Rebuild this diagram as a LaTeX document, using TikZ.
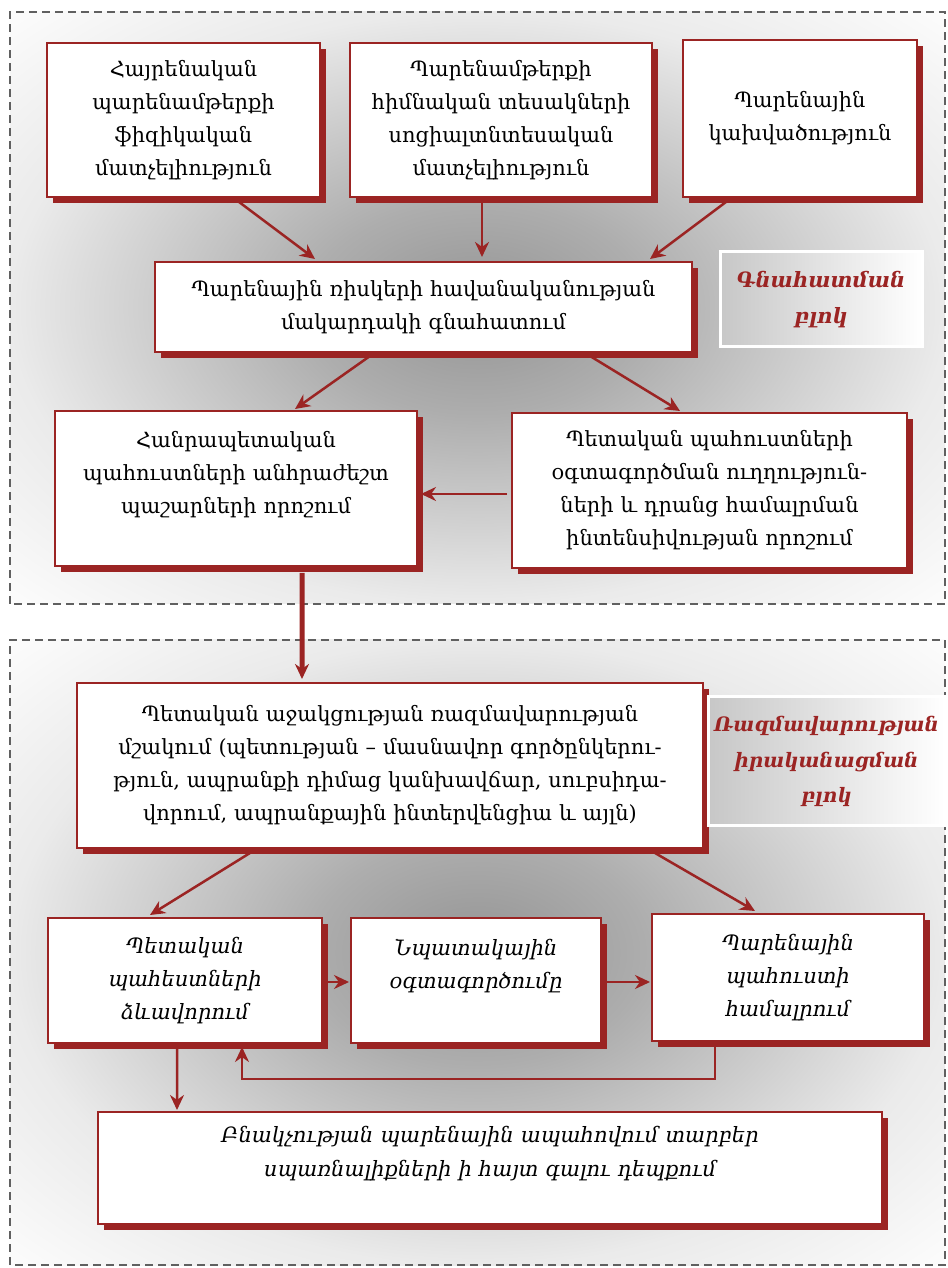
\documentclass[tikz,border=0pt]{standalone}
\usepackage{fontspec}
\setmainfont{DejaVu Serif}
\usetikzlibrary{arrows.meta,shadows}
\definecolor{boxred}{HTML}{9B2423}
\definecolor{dashgray}{HTML}{606060}
\pgfdeclareradialshading{blockglow}{\pgfpoint{0bp}{0bp}}{color(0bp)=(black!42); color(9bp)=(black!32); color(25bp)=(black!8); color(37bp)=(white); color(50bp)=(white)}

\begin{document}
\begin{tikzpicture}[
    stagebox/.style={draw=boxred, line width=0.04cm, fill=white, align=center,
      inner xsep=0.2cm, inner ysep=0pt,
      drop shadow={shadow xshift=0.12cm, shadow yshift=-0.12cm, fill=boxred, opacity=1},
      font=\fontsize{11.9}{18.8}\selectfont},
    stageit/.style={stagebox, font=\fontsize{12}{19}\selectfont\itshape},
    blocklabel/.style={draw=white, line width=0.06cm, left color=black!22, right color=white,
      align=center, inner sep=0pt, text=boxred,
      font=\fontsize{12}{20.5}\selectfont\itshape\bfseries},
    flow/.style={draw=boxred, line width=0.05cm, -{Stealth[length=0.3cm,width=0.28cm]}},
    region/.style={draw=dashgray, line width=0.04cm, dash pattern=on 0.16cm off 0.1cm}
  ]
  \useasboundingbox (0,0) rectangle (18.96,25.36);

  % Assessment block background
  \shade [shading=blockglow] (0.2,13.28) rectangle (18.9,25.12);
  \draw [region] (0.2,13.28) rectangle (18.9,25.12);

  % Strategy block background
  \shade [shading=blockglow] (0.2,0.06) rectangle (18.9,12.56);
  \draw [region] (0.2,0.06) rectangle (18.9,12.56);

  % Top row of factors
  \node [stagebox, text width=5.06cm, minimum height=3.08cm] (physical) at (3.67,22.96)
    {Հայրենական\\ պարենամթերքի\\ ֆիզիկական\\ մատչելիություն};
  \node [stagebox, text width=5.64cm, minimum height=3.08cm] (social) at (10.02,22.96)
    {Պարենամթերքի\\ հիմնական տեսակների\\ սոցիալտնտեսական\\ մատչելիություն};
  \node [stagebox, text width=4.28cm, minimum height=3.14cm] (dependence) at (16.0,22.99)
    {Պարենային\\ կախվածություն};

  % Risk level assessment
  \node [stagebox, text width=10.34cm, minimum height=1.8cm] (risk) at (8.47,19.22)
    {Պարենային ռիսկերի հավանականության\\ մակարդակի գնահատում};
  \node [blocklabel, minimum width=4.04cm, minimum height=1.9cm] (assesslabel) at (16.42,19.37)
    {Գնահատման\\ բլոկ};

  % Reserves
  \node [stagebox, text width=6.84cm, minimum height=3.1cm] (stocks) at (4.72,15.59)
    {Հանրապետական\\ պահուստների անհրաժեշտ\\ պաշարների որոշում\\ \mbox{}};
  \node [stagebox, text width=7.5cm, minimum height=3.1cm] (usage) at (14.19,15.55)
    {Պետական պահուստների\\ օգտագործման ուղղություն-\\ների և դրանց համալրման\\ ինտենսիվության որոշում};

  % Strategy
  \node [stagebox, text width=12.12cm, minimum height=3.3cm] (strategy) at (7.8,10.05)
    {Պետական աջակցության ռազմավարության\\ մշակում (պետության – մասնավոր գործընկերու-\\թյուն, ապրանքի դիմաց կանխավճար, սուբսիդա-\\վորում, ապրանքային ինտերվենցիա և այլն)};
  \node [blocklabel, minimum width=4.74cm, minimum height=2.58cm,
    font=\fontsize{11.3}{20}\selectfont\itshape\bfseries] (stratlabel) at (16.53,10.13)
    {Ռազմավարության\\ իրականացման\\ բլոկ};

  % Bottom row of actions
  \node [stageit, text width=5.08cm, minimum height=2.5cm] (forming) at (3.7,5.75)
    {Պետական\\ պահեստների\\ ձևավորում};
  \node [stageit, text width=4.6cm, minimum height=2.5cm] (targeted) at (9.52,5.75)
    {Նպատակային\\ օգտագործումը\\ \mbox{}};
  \node [stageit, text width=5.04cm, minimum height=2.54cm] (refill) at (15.76,5.81)
    {Պարենային\\ պահուստի\\ համալրում};
  \node [stageit, text width=15.28cm, minimum height=2.24cm] (supply) at (9.8,2.0)
    {Բնակչության պարենային ապահովում տարբեր\\ սպառնալիքների ի հայտ գալու դեպքում\\ \mbox{}};

  % Drawing arrows of assessment block
  \draw [flow] ([xshift=1.03cm,yshift=-0.02cm]physical.south) -- ([xshift=-2.17cm,yshift=0.04cm]risk.north);
  \draw [flow] ([xshift=-0.38cm,yshift=-0.02cm]social.south) -- ([xshift=1.17cm,yshift=0.08cm]risk.north);
  \draw [flow] ([xshift=-1.4cm,yshift=-0.02cm]dependence.south) -- ([xshift=4.53cm,yshift=0.04cm]risk.north);
  \draw [flow] ([xshift=-1.07cm,yshift=-0.06cm]risk.south) -- ([xshift=1.18cm,yshift=0.02cm]stocks.north);
  \draw [flow] ([xshift=3.33cm,yshift=-0.06cm]risk.south) -- ([xshift=-0.59cm,yshift=0.02cm]usage.north);
  \draw [flow] ([xshift=-0.08cm,yshift=-0.07cm]usage.west) -- ([xshift=0.06cm,yshift=-0.11cm]stocks.east);

  % Drawing link between blocks
  \draw [flow, line width=0.1cm] ([xshift=1.32cm,yshift=-0.12cm]stocks.south) -- ([xshift=-1.76cm,yshift=0.06cm]strategy.north);

  % Drawing arrows of strategy block
  \draw [flow] ([xshift=-2.8cm,yshift=-0.08cm]strategy.south) -- ([xshift=-0.7cm,yshift=0.04cm]forming.north);
  \draw [flow] ([xshift=5.3cm,yshift=-0.08cm]strategy.south) -- ([xshift=-0.66cm,yshift=0.04cm]refill.north);
  \draw [flow] ([xshift=0.08cm,yshift=-0.03cm]forming.east) -- ([xshift=-0.02cm,yshift=-0.03cm]targeted.west);
  \draw [flow] ([xshift=0.08cm,yshift=-0.03cm]targeted.east) -- ([xshift=-0.02cm,yshift=-0.09cm]refill.west);
  \draw [flow] ([xshift=-0.16cm,yshift=-0.06cm]forming.south) -- ([xshift=-6.26cm,yshift=0.02cm]supply.north);
  \draw [flow] ([xshift=-1.46cm]refill.south) -- ++(0,-0.74) -| ([xshift=1.14cm,yshift=-0.06cm]forming.south);
\end{tikzpicture}
\end{document}
